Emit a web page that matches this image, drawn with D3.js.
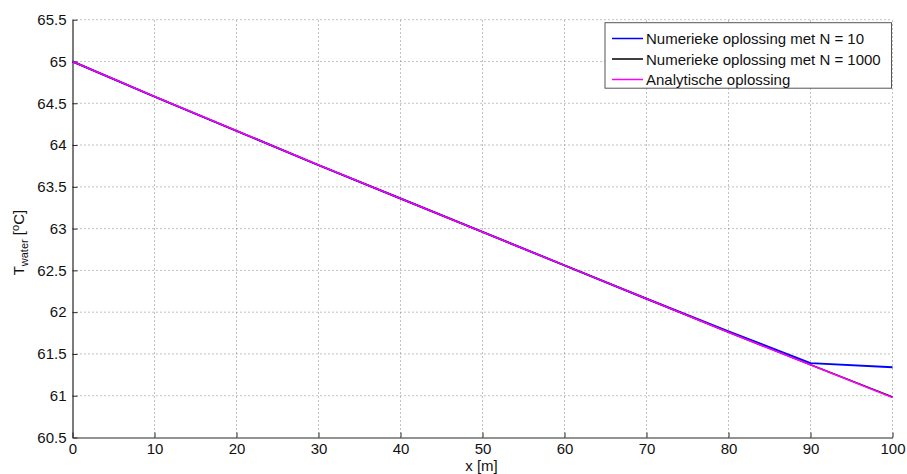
<!DOCTYPE html>
<html><head><meta charset="utf-8">
<script src="https://cdn.jsdelivr.net/npm/d3@7"></script>
<style>
body{margin:0;background:#fff;}
svg{display:block;font-family:"Liberation Sans",Arial,sans-serif;}
</style></head><body>
<svg id="c" width="907" height="474"></svg>
<script>
const xValues = [0,10,20,30,40,50,60,70,80,90,100];
const analytic = [65,64.58,64.17,63.76,63.36,62.96,62.56,62.16,61.76,61.37,60.98];
const numN10 = [65,64.58,64.17,63.76,63.36,62.96,62.56,62.16,61.77,61.39,61.34];
const numN1000 = [65,64.58,64.17,63.76,63.36,62.96,62.56,62.16,61.76,61.37,60.985];
const xTicks = [0,10,20,30,40,50,60,70,80,90,100];
const yTicks = [60.5,61,61.5,62,62.5,63,63.5,64,64.5,65,65.5];
const legendLabels = ["Numerieke oplossing met N = 10","Numerieke oplossing met N = 1000","Analytische oplossing"];
const colors = ["#0000ff","#000000","#ff00ff"];

const svg = d3.select("#c");
const L=72.5,R=892.5,T=19.7,B=437.5;
const x = d3.scaleLinear().domain([0,100]).range([L,R]);
const y = d3.scaleLinear().domain([60.5,65.5]).range([B,T]);
const FS = 15;

// grid
const g = svg.append("g");
g.selectAll(".gx").data(xTicks.slice(1)).enter().append("line")
 .attr("x1",d=>x(d)).attr("x2",d=>x(d)).attr("y1",B).attr("y2",T)
 .attr("stroke","#666").attr("stroke-width",0.8).attr("stroke-dasharray","1,3");
g.selectAll(".gy").data(yTicks.slice(1)).enter().append("line")
 .attr("y1",d=>y(d)).attr("y2",d=>y(d)).attr("x1",L).attr("x2",R)
 .attr("stroke","#666").attr("stroke-width",0.8).attr("stroke-dasharray","1,3");

// axes
const xAxis = d3.axisBottom(x).tickValues(xTicks).tickSizeInner(-5).tickSizeOuter(0).tickPadding(5.5).tickFormat(d3.format("d"));
const yAxis = d3.axisLeft(y).tickValues(yTicks).tickSizeInner(-5).tickSizeOuter(0).tickPadding(6).tickFormat(d=>String(d));
const ax = svg.append("g").attr("transform",`translate(0,${B})`).call(xAxis);
const ay = svg.append("g").attr("transform",`translate(${L},0)`).call(yAxis);
[ax,ay].forEach(a=>{
  a.selectAll("path").attr("stroke","#262626").attr("stroke-width",1.2);
  a.selectAll("line").attr("stroke","#262626").attr("stroke-width",1);
  a.selectAll("text").attr("font-size",FS).attr("fill","#111").attr("font-family","Liberation Sans, Arial, sans-serif");
});

// lines
const line = d3.line().x((d,i)=>x(xValues[i])).y(d=>y(d));
svg.append("path").datum(numN10).attr("d",line).attr("fill","none").attr("stroke",colors[0]).attr("stroke-width",2);
svg.append("path").datum(numN1000).attr("d",line).attr("fill","none").attr("stroke",colors[1]).attr("stroke-width",1.5);
svg.append("path").datum(analytic).attr("d",line).attr("fill","none").attr("stroke",colors[2]).attr("stroke-width",1.6);

// labels
svg.append("text").attr("x",(L+R)/2 - 1).attr("y",471).attr("text-anchor","middle").attr("font-size",FS).attr("fill","#111").text("x [m]");
const yl = svg.append("text").attr("transform",`translate(24,${(T+B)/2 + 14}) rotate(-90)`).attr("text-anchor","middle").attr("font-size",FS).attr("fill","#111");
yl.append("tspan").text("T");
yl.append("tspan").attr("font-size",11).attr("dy",4).text("water");
yl.append("tspan").attr("dy",-4).text(" [");
yl.append("tspan").attr("font-size",11).attr("dy",-5).text("o");
yl.append("tspan").attr("dy",5).text("C]");

// legend
const lg = svg.append("g");
lg.append("rect").attr("x",605).attr("y",22.7).attr("width",286.5).attr("height",65.5).attr("fill","#fff").attr("stroke","#555").attr("stroke-width",1);
legendLabels.forEach((t,i)=>{
  const cy = 38.5 + i*20.5;
  lg.append("line").attr("x1",612).attr("x2",643).attr("y1",cy).attr("y2",cy).attr("stroke",colors[i]).attr("stroke-width",1.5);
  lg.append("text").attr("x",646).attr("y",cy+5.5).attr("font-size",FS).attr("fill","#111").text(t);
});
</script>
</body></html>
